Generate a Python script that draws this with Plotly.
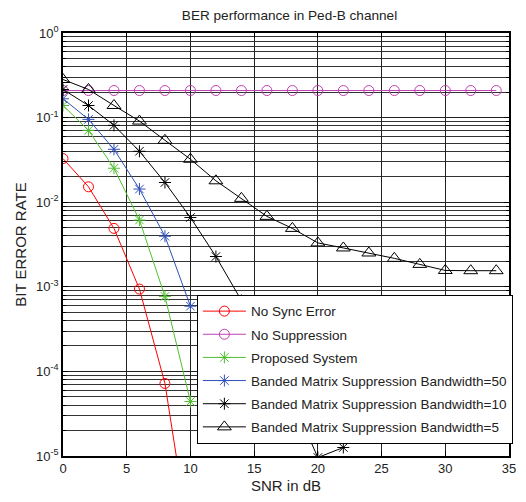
import plotly.graph_objects as go

snr_sync = [0, 2, 4, 6, 8, 10]
ber_sync = [0.0328, 0.0152, 0.0049, 0.00094, 7.2e-5, 8.5e-7]

snr_nosup = [0, 2, 4, 6, 8, 10, 12, 14, 16, 18, 20, 22, 24, 26, 28, 30, 32, 34]
ber_nosup = [0.209] * len(snr_nosup)

snr_prop = [0, 2, 4, 6, 8, 10]
ber_prop = [0.139, 0.0707, 0.0252, 0.00615, 0.00077, 4.4e-5]

snr_bw50 = [0, 2, 4, 6, 8, 10]
ber_bw50 = [0.167, 0.0953, 0.0422, 0.0143, 0.00396, 0.00059]

snr_bw10 = [0, 2, 4, 6, 8, 10, 12, 14, 16, 18, 20, 22]
ber_bw10 = [0.215, 0.139, 0.081, 0.040, 0.0171, 0.0066, 0.00228, 6.9e-4, 1.8e-4, 4.6e-5, 9.6e-6, 1.26e-5]

snr_bw5 = [0, 2, 4, 6, 8, 10, 12, 14, 16, 18, 20, 22, 24, 26, 28, 30, 32, 34]
ber_bw5 = [0.282, 0.215, 0.139, 0.091, 0.0539, 0.0322, 0.0179, 0.0111, 0.0068, 0.0049,
           0.0033, 0.00288, 0.00251, 0.00217, 0.00184, 0.00156, 0.00155, 0.00155]

names = ["No Sync Error", "No Suppression", "Proposed System",
         "Banded Matrix Suppression Bandwidth=50",
         "Banded Matrix Suppression Bandwidth=10",
         "Banded Matrix Suppression Bandwidth=5"]

ytick_vals = [1e-5, 1e-4, 1e-3, 1e-2, 1e-1, 1]
ytick_text = ["10<sup>-5</sup>", "10<sup>-4</sup>", "10<sup>-3</sup>",
              "10<sup>-2</sup>", "10<sup>-1</sup>", "10<sup>0</sup>"]

series = [
    (snr_sync, ber_sync, "#ff0000", "circle-open", 10),
    (snr_nosup, ber_nosup, "#c040b0", "circle-open", 10),
    (snr_prop, ber_prop, "#50c030", "asterisk-open", 10),
    (snr_bw50, ber_bw50, "#3050b8", "asterisk-open", 10),
    (snr_bw10, ber_bw10, "#000000", "asterisk-open", 10),
    (snr_bw5, ber_bw5, "#000000", "triangle-up-open", 12),
]

fig = go.Figure()
for i, ((x, y, col, sym, sz), nm) in enumerate(zip(series, names)):
    fig.add_trace(go.Scatter(
        x=x, y=y, name=nm, mode="lines+markers", legendgroup=f"g{i}",
        line=dict(color=col, width=1),
        marker=dict(symbol=sym, size=sz, color=col, line=dict(color=col, width=1)),
    ))

font = "Liberation Sans, Arial, sans-serif"
fig.update_layout(
    width=526, height=502,
    margin=dict(l=63, r=10, t=33, b=44),
    paper_bgcolor="white", plot_bgcolor="white",
    font=dict(family=font, size=13, color="#222"),
    title=dict(text="BER performance in Ped-B channel", x=0.5504, xref="container",
               y=1 - 15 / 502, yanchor="middle", font=dict(size=13.6, color="#222")),
    showlegend=True,
    legend=dict(x=0.3002, y=0.381, xanchor="left", yanchor="top",
                bgcolor="white", bordercolor="black", borderwidth=1,
                font=dict(size=13.5, color="#222"), itemwidth=43,
                tracegroupgap=2.6),
    xaxis=dict(range=[0, 35], dtick=5, showgrid=True, gridcolor="#222", gridwidth=1,
               showline=True, linecolor="black", linewidth=1.5, mirror="ticks",
               ticks="inside", ticklen=5, tickcolor="black", zeroline=False,
               title=dict(text="SNR in dB", standoff=5, font=dict(size=15)),
               tickfont=dict(size=13)),
    yaxis=dict(type="log", range=[-5, 0], tickmode="array", tickvals=ytick_vals,
               ticktext=ytick_text, showgrid=True, gridcolor="#222", gridwidth=1,
               showline=True, linecolor="black", linewidth=1.5, mirror="ticks",
               ticks="inside", ticklen=5, tickcolor="black", zeroline=False,
               title=dict(text="BIT ERROR RATE", standoff=6, font=dict(size=15)),
               tickfont=dict(size=13),
               minor=dict(dtick="D1", showgrid=True, gridcolor="#333", gridwidth=1,
                          ticks="inside", ticklen=3, tickcolor="black")),
)

fig.write_html("out.html", config={"displayModeBar": False},
               post_script="document.body.style.margin='0px';")
